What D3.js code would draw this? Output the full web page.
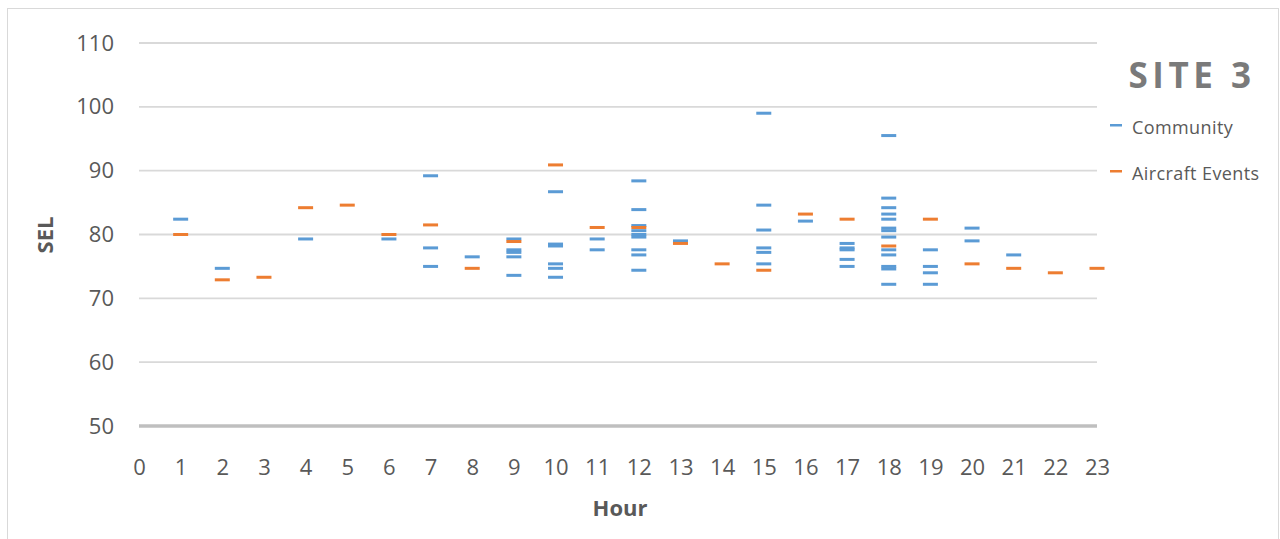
<!DOCTYPE html>
<html>
<head>
<meta charset="utf-8" />
<title>Site 3 SEL by hour</title>
<script src="https://d3js.org/d3.v7.min.js"></script>
<style>
body { margin: 0; background: white; }
text { font-family: "Open Sans", sans-serif; fill: #595959; }
.tick text { font-size: 22px; }
</style>
</head>
<body>
<div id="chart"></div>
<script>

// community measurements: hour and SEL
var communityHour = [1, 2, 4, 6,
  7, 7, 7, 8,
  9, 9, 9, 9, 9,
  10, 10, 10, 10, 10, 10,
  11, 11,
  12, 12, 12, 12, 12, 12, 12, 12, 12,
  13,
  15, 15, 15, 15, 15, 15,
  16,
  17, 17, 17, 17, 17,
  18, 18, 18, 18, 18, 18, 18, 18, 18, 18, 18, 18, 18,
  19, 19, 19, 19,
  20, 20, 21]
var communitySEL = [82.4, 74.7, 79.3, 79.3,
  89.2, 77.9, 75.0, 76.5,
  79.3, 77.6, 77.2, 76.5, 73.6,
  86.7, 78.5, 78.2, 75.4, 74.7, 73.3,
  79.3, 77.6,
  88.4, 83.9, 81.4, 80.6, 80.0, 79.6, 77.6, 76.8, 74.4,
  79.0,
  99.0, 84.6, 80.7, 77.9, 77.2, 75.4,
  82.1,
  78.6, 77.9, 77.6, 76.1, 75.0,
  95.5, 85.7, 84.2, 83.2, 82.4, 81.0, 80.6, 79.6, 77.6, 76.8, 75.0, 74.6, 72.2,
  77.6, 75.0, 74.0, 72.2,
  81.0, 79.0, 76.8]

// aircraft events: hour and SEL
var aircraftHour = [1, 2, 3, 4, 5, 6, 7, 8, 9, 10, 11, 12, 13, 14, 15, 16, 17, 18, 19, 20, 21, 22, 23]
var aircraftSEL = [80.0, 72.9, 73.3, 84.2, 84.6, 80.0, 81.5, 74.7, 78.9, 90.9, 81.1, 81.1, 78.6,
  75.4, 74.4, 83.2, 82.4, 78.2, 82.4, 75.4, 74.7, 74.0, 74.7]

var hourTicks = d3.range(0, 24)
var selTicks = [50, 60, 70, 80, 90, 100, 110]
var seriesNames = ["Community", "Aircraft Events"]
var seriesColors = ["#5b9bd5", "#ed7d31"]

var size = {width: 1280, height: 539}

var svg = d3.select("#chart").append("svg")
  .attr("width", size.width)
  .attr("height", size.height)

// outer chart border
svg.append("rect")
  .attr("x", 7.5)
  .attr("y", 8.5)
  .attr("width", 1271)
  .attr("height", 540)
  .attr("fill", "white")
  .attr("stroke", "#d9d9d9")

var xScale = d3.scaleLinear().domain([0, 23]).range([139, 1097])
var yScale = d3.scaleLinear().domain([50, 110]).range([426, 43])

// gridlines
svg.append("g")
  .selectAll("line")
  .data(selTicks)
  .enter().append("line")
  .attr("x1", xScale(0))
  .attr("x2", xScale(23))
  .attr("y1", function(d) { return yScale(d) })
  .attr("y2", function(d) { return yScale(d) })
  .attr("stroke", function(d) { return d == 50 ? "#bfbfbf" : "#d9d9d9" })
  .attr("stroke-width", function(d) { return d == 50 ? 3.5 : 1.8 })

// y axis labels
var yAxis = svg.append("g")
  .attr("transform", "translate(" + xScale(0) + ",0)")
  .call(d3.axisLeft(yScale).tickValues(selTicks).tickSize(0).tickPadding(25))
yAxis.select(".domain").remove()
yAxis.selectAll("text").attr("fill", "#595959").attr("font-family", null)

// x axis labels
var xAxis = svg.append("g")
  .attr("transform", "translate(0," + yScale(50) + ")")
  .call(d3.axisBottom(xScale).tickValues(hourTicks).tickSize(0).tickPadding(33).tickFormat(d3.format("d")))
xAxis.select(".domain").remove()
xAxis.selectAll("text").attr("fill", "#595959").attr("font-family", null)

svg.append("text")
  .text("Hour")
  .attr("x", 620)
  .attr("y", 516)
  .attr("text-anchor", "middle")
  .attr("font-size", 22)
  .attr("font-weight", 700)

svg.append("text")
  .text("SEL")
  .attr("text-anchor", "middle")
  .attr("font-size", 22)
  .attr("font-weight", 700)
  .attr("transform", "translate(53,235) rotate(-90)")

// dash markers
function drawDashes(hours, values, color) {
  svg.append("g")
    .selectAll("rect")
    .data(hours)
    .enter().append("rect")
    .attr("x", function(d) { return xScale(d) - 7.5 })
    .attr("y", function(d, i) { return yScale(values[i]) - 1.5 })
    .attr("width", 15)
    .attr("height", 3)
    .attr("fill", color)
}

drawDashes(communityHour, communitySEL, seriesColors[0])
drawDashes(aircraftHour, aircraftSEL, seriesColors[1])

// title
svg.append("text")
  .text("SITE 3")
  .attr("x", 1192)
  .attr("y", 88)
  .attr("text-anchor", "middle")
  .attr("font-size", 35)
  .attr("font-weight", 700)
  .attr("letter-spacing", 4.5)
  .style("fill", "#7a7a7a")

// legend
var legend = svg.append("g")
  .selectAll("g")
  .data(seriesNames)
  .enter().append("g")
  .attr("transform", function(d, i) { return "translate(1110," + (125 + i * 46) + ")" })

legend.append("rect")
  .attr("x", 0)
  .attr("y", -1)
  .attr("width", 12)
  .attr("height", 2.5)
  .attr("fill", function(d, i) { return seriesColors[i] })

legend.append("text")
  .text(function(d) { return d })
  .attr("x", 22)
  .attr("y", 9)
  .attr("font-size", 18)
  .attr("letter-spacing", 0.4)

</script>
</body>
</html>
